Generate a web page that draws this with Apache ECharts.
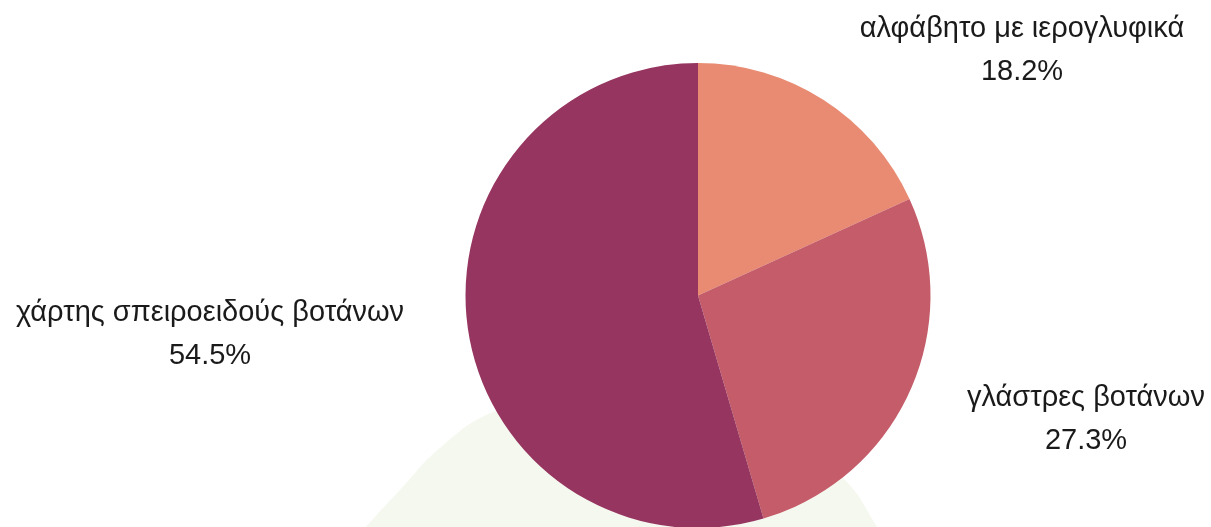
<!DOCTYPE html>
<html>
<head>
<meta charset="utf-8">
<script src="https://cdn.jsdelivr.net/npm/echarts@6/dist/echarts.min.js"></script>
<style>
  html, body { margin: 0; padding: 0; background: #fff; }
  #chart { width: 1211px; height: 527px; }
</style>
</head>
<body>
<div id="chart"></div>
<script>
// slices, clockwise from 12 o'clock
const names = ['αλφάβητο με ιερογλυφικά', 'γλάστρες βοτάνων', 'χάρτης σπειροειδούς βοτάνων'];
const values = [2, 3, 6];
const colors = ['#e88b72', '#c45c69', '#963560'];
// where each label sits (centre of the text block)
const labelPos = [[1022, 50], [1086, 419], [210, 334]];

const chart = echarts.init(document.getElementById('chart'));

const option = {
  animation: false,
  backgroundColor: '#fff',
  graphic: [{
    type: 'polygon',
    z: -10,
    shape: {
      smooth: 0.45,
      points: [[320, 580], [366, 527], [400, 490], [440, 448], [493, 412],
               [580, 388], [680, 392], [770, 420], [842, 477], [877, 527], [905, 580]]
    },
    style: { fill: '#f5f8ef' }
  }],
  series: [{
    type: 'pie',
    center: [698, 295.5],
    radius: 232.5,
    startAngle: 90,
    clockwise: true,
    data: names.map((n, i) => ({ name: n, value: values[i], itemStyle: { color: colors[i] } })),
    itemStyle: { borderWidth: 0 },
    label: {
      show: true,
      position: 'outside',
      formatter: p => p.name + '\n' + p.percent.toFixed(1) + '%',
      fontFamily: 'Liberation Sans',
      fontSize: 29,
      lineHeight: 43,
      color: '#1a1a1a',
      align: 'center'
    },
    labelLine: { show: false },
    labelLayout: p => ({
      x: labelPos[p.dataIndex][0],
      y: labelPos[p.dataIndex][1],
      align: 'center',
      verticalAlign: 'middle'
    }),
    emphasis: { disabled: true }
  }]
};

chart.setOption(option);
</script>
</body>
</html>
